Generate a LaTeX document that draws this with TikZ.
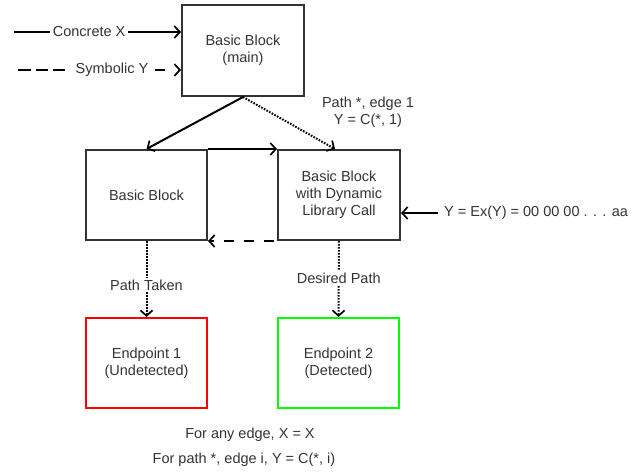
\documentclass[tikz,border=0pt]{standalone}
\usepackage{fontspec}
\setmainfont{Liberation Sans}
\usetikzlibrary{arrows.meta}
\definecolor{txt}{HTML}{333333}
\definecolor{edge}{HTML}{333333}
\begin{document}
\begin{tikzpicture}[x=1pt,y=-1pt,
  every node/.style={font=\fontsize{14.5}{17}\selectfont, text=txt, align=center},
  blk/.style={draw=edge, line width=2pt, minimum width=121pt, minimum height=90pt, inner sep=0pt},
  tip/.style={-{Straight Barb[length=5.5pt,width=12pt,line width=1.7pt]}},
  conn/.style={line width=2pt, tip},
  dashconnb/.style={conn, dash pattern=on 10pt off 10pt, dash phase=17pt},
  dotconn/.style={line width=2pt, dash pattern=on 1.6pt off 1.4pt, draw=black, tip},
  lbl/.style={fill=white, inner sep=2pt, inner xsep=3pt}
]
\useasboundingbox (0,0) rectangle (635,472);
\node[blk, minimum width=122pt, minimum height=91pt] (main) at (243,50.5) {Basic Block\\(main)};
\node[blk] (bb) at (146.5,195) {Basic Block};
\node[blk, minimum width=122pt] (dyn) at (339,195) {Basic Block\\with Dynamic\\Library Call};
\node[blk, draw=red] (ep1) at (146.5,363) {Endpoint 1\\(Undetected)};
\node[blk, draw=green] (ep2) at (338.5,363) {Endpoint 2\\(Detected)};

\coordinate (cx) at (14,32);
\coordinate (sy) at (18,70);
\coordinate (yin) at (438,213);

\draw[conn] (cx) -- node[lbl, pos=0.45] (lcx) {Concrete X} (main.west |- cx);

\node[lbl] (lsy) at (112,70) {Symbolic Y};
\draw[line width=2pt, dash pattern=on 13pt off 5pt on 12pt off 5pt on 12pt off 60pt] (sy) -- (lsy.west);
\draw[conn, dash pattern=on 0pt off 3.5pt on 10pt off 40pt] (lsy.east) -- (main.west |- sy);

\draw[conn] (main.south) -- (bb.north);
\draw[dotconn] (main.south) -- ([xshift=-4pt]dyn.north);
\node (lpath) at (368,112) {Path *, edge 1\\Y = C(*, 1)};

\draw[conn] (bb.north east) -- (dyn.north west);
\draw[dashconnb] (dyn.south west) -- (bb.south east);

\draw[conn] (yin) -- (dyn.east |- yin);
\node[anchor=west, inner sep=0pt] (lyin) at (444,213) {Y = Ex(Y) = 00 00 00 . . . aa};

\draw[dotconn] (bb.south) -- node[lbl, pos=0.58] (ltaken) {Path Taken} (ep1.north);
\draw[dotconn] (dyn.south) -- node[lbl, pos=0.49] (ldes) {Desired Path} (ep2.north);

\node (n1) at (250,435) {For any edge, X = X};
\node (n2) at (244,460) {For path *, edge i, Y = C(*, i)};
\end{tikzpicture}
\end{document}
